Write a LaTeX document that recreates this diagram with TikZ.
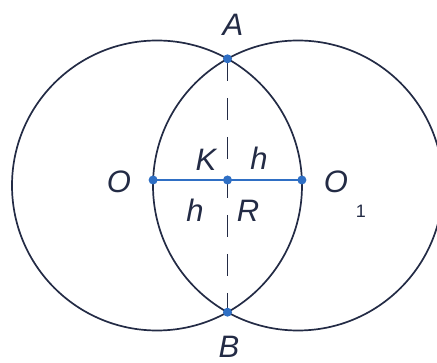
\documentclass[tikz,border=0pt]{standalone}
\usepackage{fontspec}
\setmainfont{Liberation Sans}
\usetikzlibrary{calc}
\definecolor{ink}{HTML}{232B45}
\definecolor{ptblue}{HTML}{2F6FC4}

\begin{document}
\begin{tikzpicture}[
  x=1pt, y=-1pt,
  font=\fontsize{31}{36}\selectfont\itshape,
  circ/.style={draw=ink, line width=1.7pt},
  chord/.style={draw=ink, line width=1.5pt, dash pattern=on 22pt off 17pt},
  seg/.style={draw=ptblue, line width=2pt},
  dot/.style={circle, fill=ptblue, inner sep=0pt, minimum size=9pt},
  lbl/.style={inner sep=0pt, text=ink}
]
  \useasboundingbox (0,0) rectangle (437,363);

  % centres of the two circles
  \coordinate (c1) at (157,185.5);
  \coordinate (c2) at (298,185.5);

  % the two circles
  \draw[circ] (c1) circle[radius=145];
  \draw[circ] (c2) circle[radius=145];

  % points
  \coordinate (A) at (227.5,58.8);
  \coordinate (B) at (227.5,312.2);
  \coordinate (O) at (153.1,180);
  \coordinate (O1) at (301.9,180);
  \coordinate (K) at (227.5,180);

  % common chord and segment OO1
  \draw[chord] (A) -- (B);
  \draw[seg] (O) -- (O1);

  \foreach \p in {A,B,O,O1,K}
    \node[dot] (d\p) at (\p) {};

  % labels
  \node[lbl] (lA) at (233,25) {A};
  \node[lbl] (lB) at (229,347) {B};
  \node[lbl] (lO) at (119,182) {O};
  \node[lbl] (lO1) at (336,182) {O};
  \node[lbl, font=\fontsize{18}{20}\selectfont] (lsub) at (361,211) {1};
  \node[lbl] (lK) at (206,160) {K};
  \node[lbl] (lh1) at (259,158) {h};
  \node[lbl] (lh2) at (195,210) {h};
  \node[lbl] (lR) at (248,211) {R};
\end{tikzpicture}
\end{document}
